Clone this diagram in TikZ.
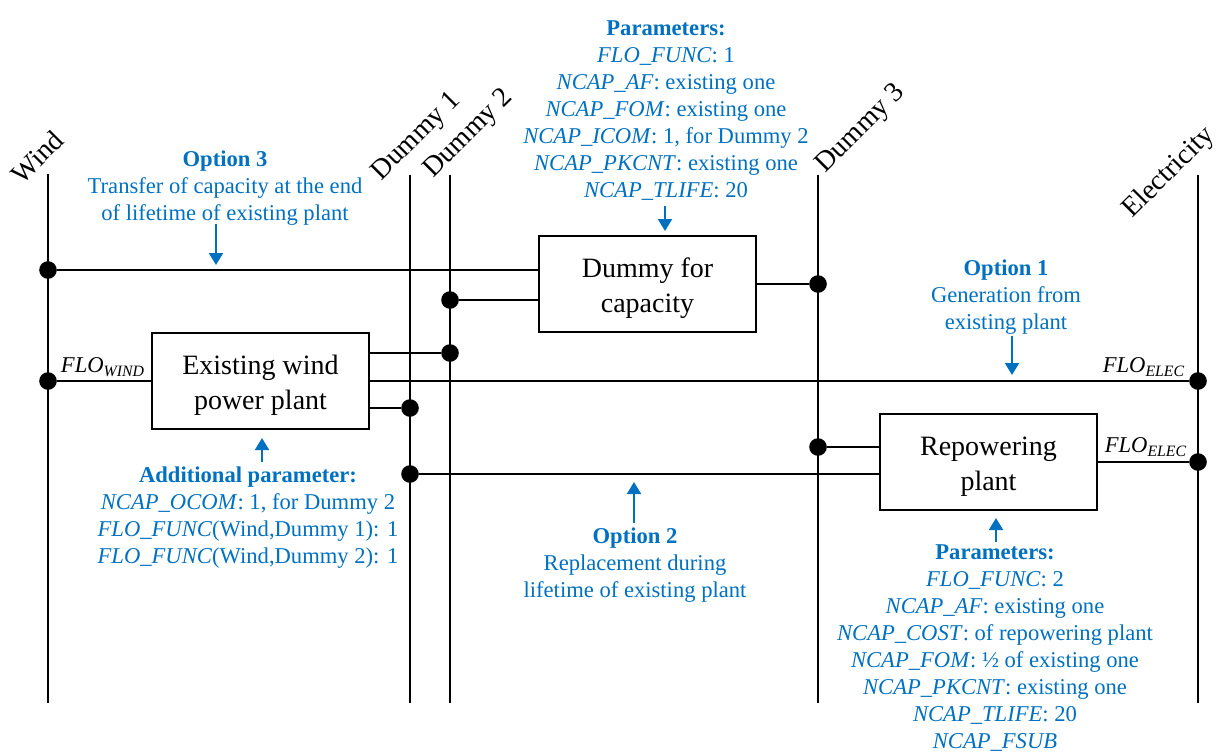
\documentclass[tikz,border=0pt]{standalone}
\usepackage{fontspec}
\setmainfont{Liberation Serif}
\usetikzlibrary{arrows.meta}
\definecolor{optblue}{RGB}{0,112,192}
\newcommand{\boxstrut}{\rule{0pt}{13.6pt}}
\begin{document}
\begin{tikzpicture}[x=0.5pt,y=-0.5pt,
  proc/.style={draw, line width=1pt, minimum width=108.5pt, minimum height=48pt, inner sep=0pt, align=center, font=\fontsize{14}{17.5}\selectfont},
  dot/.style={circle, fill=black, inner sep=0pt, minimum size=8.8pt},
  bus/.style={line width=1pt},
  buslabel/.style={rotate=45, inner sep=0pt, font=\fontsize{14}{17}\selectfont},
  note/.style={text=optblue, align=center, inner sep=0pt, font=\fontsize{11.3}{13.5}\selectfont},
  flo/.style={inner sep=0pt, font=\fontsize{11.3}{13.5}\selectfont\itshape},
  arr/.style={draw=optblue, line width=1pt, -{Triangle[width=7pt,length=6pt]}}
]
\useasboundingbox (0,0) rectangle (1219,751);

% bus lines
\coordinate (wT) at (48,174);   \coordinate (wB) at (48,703);
\coordinate (d1T) at (410,175); \coordinate (d1B) at (410,703);
\coordinate (d2T) at (450,175); \coordinate (d2B) at (450,703);
\coordinate (d3T) at (818,175); \coordinate (d3B) at (818,703);
\coordinate (eT) at (1198,175); \coordinate (eB) at (1198,703);
\draw[bus] (wT) -- (wB);
\draw[bus] (d1T) -- (d1B);
\draw[bus] (d2T) -- (d2B);
\draw[bus] (d3T) -- (d3B);
\draw[bus] (eT) -- (eB);

\node[buslabel] (lw) at (37,157) {Wind};
\node[buslabel] (ld1) at (417,137) {Dummy 1};
\node[buslabel] (ld2) at (469,134) {Dummy 2};
\node[buslabel] (ld3) at (861,129) {Dummy 3};
\node[buslabel] (le) at (1169,173) {Electricity};

% processes
\node[proc] (cap) at (647.5,284) {\boxstrut Dummy for\\capacity};
\node[proc] (ex) at (260.5,381) {\boxstrut Existing wind\\power plant};
\node[proc] (rep) at (988.5,462) {\boxstrut Repowering\\plant};

% dots
\node[dot] (dW1) at (48,270) {};
\node[dot] (dW2) at (48,381) {};
\node[dot] (dD2a) at (450,300) {};
\node[dot] (dD2b) at (450,353) {};
\node[dot] (dD1a) at (410,408) {};
\node[dot] (dD1b) at (410,474) {};
\node[dot] (dD3a) at (818,284) {};
\node[dot] (dD3b) at (818,447) {};
\node[dot] (dE1) at (1198,381) {};
\node[dot] (dE2) at (1198,462) {};

% connectors
\draw[bus] (dW1) -- (dW1 -| cap.west);
\draw[bus] (dD2a) -- (dD2a -| cap.west);
\draw[bus] (cap.east) -- (dD3a);
\draw[bus] (dD2b -| ex.east) -- (dD2b);
\draw[bus] (dW2) -- (ex.west);
\draw[bus] (ex.east) -- (dE1);
\draw[bus] (dD1a -| ex.east) -- (dD1a);
\draw[bus] (dD1b) -- (dD1b -| rep.west);
\draw[bus] (dD3b) -- (dD3b -| rep.west);
\draw[bus] (rep.east) -- (dE2);

% flow labels
\node[flo] (fw) at (103,367) {FLO\textsubscript{WIND}};
\node[flo] (fe1) at (1144,367) {FLO\textsubscript{ELEC}};
\node[flo] (fe2) at (1146,447) {FLO\textsubscript{ELEC}};

% notes
\node[note] (pcap) at (666,111) {\textbf{Parameters:}\\
\textit{FLO\_FUNC}: 1\\
\textit{NCAP\_AF}: existing one\\
\textit{NCAP\_FOM}: existing one\\
\textit{NCAP\_ICOM}: 1, for Dummy 2\\
\textit{NCAP\_PKCNT}: existing one\\
\textit{NCAP\_TLIFE}: 20};
\node[note] (o3) at (225,188) {\textbf{Option 3}\\Transfer of capacity at the end\\of lifetime of existing plant};
\node[note] (o1) at (1006,297) {\textbf{Option 1}\\Generation from\\existing plant};
\node[note] (pex) at (248,518) {\textbf{Additional parameter:}\\
\textit{NCAP\_OCOM}: 1, for Dummy 2\\
\textit{FLO\_FUNC}(Wind,Dummy 1): 1\\
\textit{FLO\_FUNC}(Wind,Dummy 2): 1};
\node[note] (o2) at (635,565) {\textbf{Option 2}\\Replacement during\\lifetime of existing plant};
\node[note] (prep) at (995,648.5) {\textbf{Parameters:}\\
\textit{FLO\_FUNC}: 2\\
\textit{NCAP\_AF}: existing one\\
\textit{NCAP\_COST}: of repowering plant\\
\textit{NCAP\_FOM}: ½ of existing one\\
\textit{NCAP\_PKCNT}: existing one\\
\textit{NCAP\_TLIFE}: 20\\
\textit{NCAP\_FSUB}};

% arrows
\coordinate (a3s) at (216,224);  \coordinate (a3e) at (216,265);
\coordinate (acs) at (665,206);  \coordinate (ace) at (665,231);
\coordinate (a1s) at (1012,336); \coordinate (a1e) at (1012,375);
\coordinate (axs) at (262,462);  \coordinate (axe) at (262,438);
\coordinate (a2s) at (634,523);  \coordinate (a2e) at (634,482);
\coordinate (ars) at (996,542);  \coordinate (are) at (996,518);
\draw[arr] (a3s) -- (a3e);
\draw[arr] (acs) -- (ace);
\draw[arr] (a1s) -- (a1e);
\draw[arr] (axs) -- (axe);
\draw[arr] (a2s) -- (a2e);
\draw[arr] (ars) -- (are);
\end{tikzpicture}
\end{document}
